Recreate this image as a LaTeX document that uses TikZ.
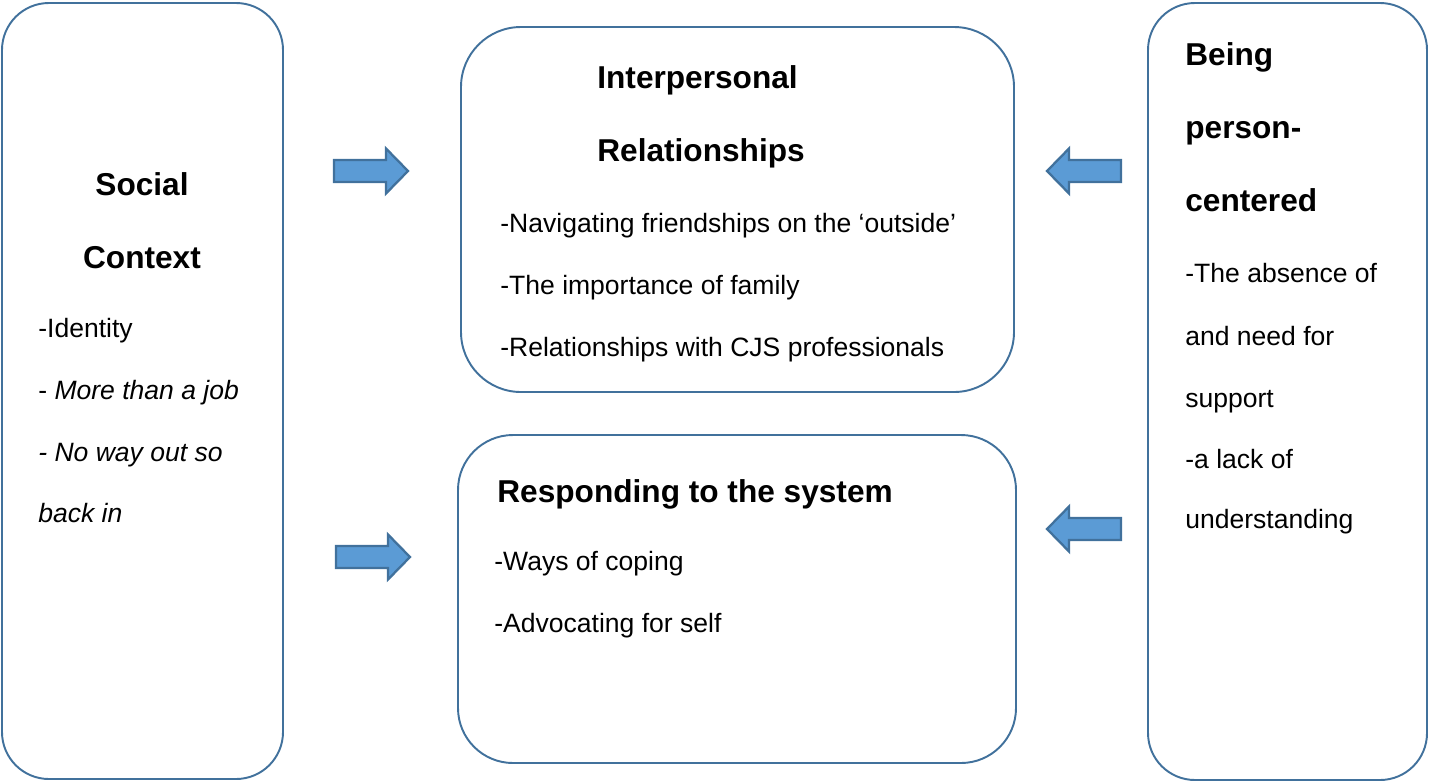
\documentclass[tikz,border=0pt]{standalone}
\usepackage{fontspec}
\setmainfont{Liberation Sans}
\definecolor{boxline}{HTML}{41719C}
\definecolor{arrowfill}{HTML}{5B9BD5}

\begin{document}
\begin{tikzpicture}[x=0.02cm,y=-0.02cm,
    box/.style={draw=boxline,line width=1.1pt},
    head/.style={anchor=base west,inner sep=0pt,font=\fontsize{18}{21}\selectfont\bfseries},
    item/.style={anchor=base west,inner sep=0pt,font=\fontsize{15.1}{18}\selectfont},
    fatarrow/.pic={
        \draw[draw=boxline,fill=arrowfill,line width=1.3pt]
            (0,-11) -- (52,-11) -- (52,-22.5) -- (74,0) -- (52,22.5) -- (52,11) -- (0,11) -- cycle;
    }]
    \useasboundingbox (0,0) rectangle (1429,782);

    \draw [box,rounded corners=0.94cm] (2,3) rectangle (283,779);
    \draw [box,rounded corners=1.2cm] (461,27) rectangle (1014,392);
    \draw [box,rounded corners=1.1cm] (458,435) rectangle (1016,763);
    \draw [box,rounded corners=0.94cm] (1148,3) rectangle (1427,780);

    \pic (toprel) at (334,171) {fatarrow};
    \pic (topsys) at (336,557) {fatarrow};
    \pic [xscale=-1] (relpc) at (1121,171) {fatarrow};
    \pic [xscale=-1] (syspc) at (1121,529) {fatarrow};

    \node [head,anchor=base] (social) at (142,195) {Social};
    \node [head,anchor=base] (context) at (142,268) {Context};
    \node [item] (identity) at (38,337) {-Identity};
    \node [item] (job) at (38,399) {- \textit{More than a job}};
    \node [item] (wayout) at (38,461) {\textit{- No way out so}};
    \node [item] (backin) at (38,522) {\textit{back in}};

    \node [head] (interp) at (597,88) {Interpersonal};
    \node [head] (relat) at (597,161) {Relationships};
    \node [item] (friends) at (500,232) {-Navigating friendships on the `outside'};
    \node [item] (family) at (500,294) {-The importance of family};
    \node [item] (cjs) at (500,356) {-Relationships with CJS professionals};

    \node [head] (respond) at (497,502) {Responding to the system};
    \node [item] (coping) at (494,570) {-Ways of coping};
    \node [item] (advocate) at (494,632) {-Advocating for self};

    \node [head] (being) at (1185,65) {Being};
    \node [head] (person) at (1185,138) {person-};
    \node [head] (centered) at (1185,211) {centered};
    \node [item] (absence) at (1185,282) {-The absence of};
    \node [item] (need) at (1185,345) {and need for};
    \node [item] (support) at (1185,407) {support};
    \node [item] (lack) at (1185,468) {-a lack of};
    \node [item] (underst) at (1185,528) {understanding};

    \end{tikzpicture}
\end{document}
